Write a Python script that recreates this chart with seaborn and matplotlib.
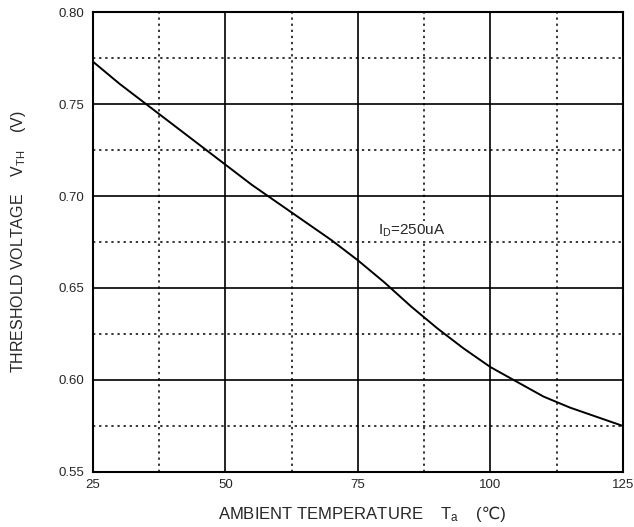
import numpy as np
import pandas as pd
import matplotlib
matplotlib.use("Agg")
import matplotlib.pyplot as plt
import seaborn as sns

# values
temp_c = [25, 30, 35, 40, 45, 50, 55, 60, 65, 70, 75, 80, 85, 90, 95, 100, 105, 110, 115, 120, 125]
vth_v = [0.773, 0.761, 0.750, 0.739, 0.728, 0.717, 0.706, 0.696, 0.686, 0.676, 0.665, 0.653, 0.640, 0.628, 0.617, 0.607, 0.599, 0.591, 0.585, 0.580, 0.575]

x_major = [25, 50, 75, 100, 125]
x_minor = [37.5, 62.5, 87.5, 112.5]
y_major = [0.55, 0.60, 0.65, 0.70, 0.75, 0.80]
y_minor = [0.575, 0.625, 0.675, 0.725, 0.775]

df = pd.DataFrame({"T": temp_c, "VTH": vth_v})

sns.set_style("white")
plt.rcParams['font.family'] = ['Liberation Sans', 'DejaVu Sans']

fig, ax = plt.subplots(figsize=(6.34, 5.27), dpi=100)
fig.subplots_adjust(left=0.1467, right=0.9826, top=0.9772, bottom=0.1044)

sns.lineplot(data=df, x="T", y="VTH", color="black", linewidth=1.4, ax=ax)

ax.set_xlim(25, 125)
ax.set_ylim(0.55, 0.80)
ax.set_xticks(x_major)
ax.set_yticks(y_major)
ax.set_xticks(x_minor, minor=True)
ax.set_yticks(y_minor, minor=True)
ax.set_yticklabels([f"{v:.2f}" for v in y_major])

ax.grid(which="major", color="black", linewidth=1.2, linestyle="-")
ax.grid(which="minor", color="black", linewidth=1.1, linestyle=(0, (1.5, 2.5)))
ax.set_axisbelow(True)
ax.tick_params(which="both", length=0, labelsize=9.5)
ax.tick_params(axis="y", pad=6)
ax.tick_params(axis="x", pad=5)
for s in ax.spines.values():
    s.set_color("black")
    s.set_linewidth(1.5)

# x label: text + subscript, unit added after so the ℃ glyph can fall back
ax.set_xlabel(r"AMBIENT TEMPERATURE    $\mathregular{T_a}$", fontsize=12,
              labelpad=10, x=0.236, ha="left")
ax.annotate("(℃)", xy=(1, 1), xycoords=ax.xaxis.label, xytext=(12, -1),
            textcoords="offset points", ha="left", va="top", fontsize=12,
            family=['Liberation Sans', 'DejaVu Sans'])
ax.set_ylabel(r"THRESHOLD VOLTAGE    $\mathregular{V_{TH}}$    (V)", fontsize=11.5, labelpad=22)

ax.text(78.7, 0.681, r"$\mathregular{I_D}$=250uA", fontsize=11, va="center", ha="left",
        bbox=dict(facecolor="white", edgecolor="none", pad=1))

fig.savefig("out.png", dpi=100)
